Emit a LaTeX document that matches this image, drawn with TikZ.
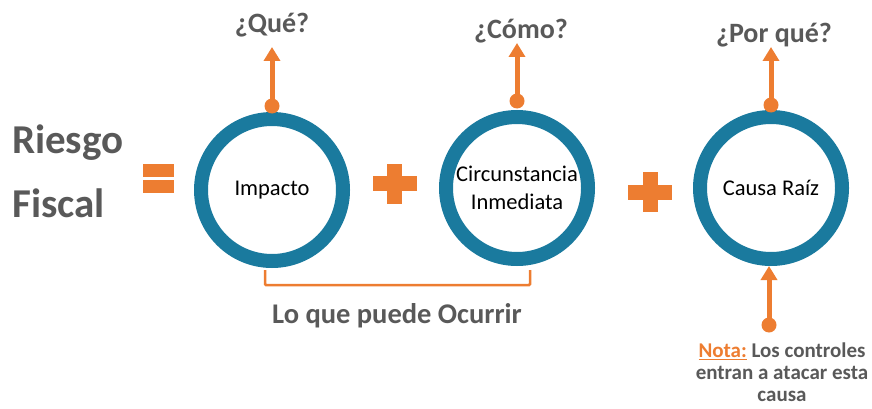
\documentclass[tikz,border=0pt]{standalone}
\usepackage{fontspec}
\setmainfont{Carlito}
\usepackage{xcolor}
\usetikzlibrary{arrows.meta,positioning,calc}
\definecolor{RiskBlue}{HTML}{1A7A9E}
\definecolor{RiskOrange}{HTML}{ED7D31}
\definecolor{RiskGray}{HTML}{595959}
\tikzset{
  plusmark/.pic={
    \fill[RiskOrange] (-22,-7.5) rectangle (22,7.5);
    \fill[RiskOrange] (-7.5,-20) rectangle (7.5,20);
  }
}

\begin{document}
\begin{tikzpicture}[x=1pt,y=1pt,
  ring/.style={circle,draw=RiskBlue,line width=14pt,minimum size=142pt,inner sep=0pt,align=center,font=\fontsize{22.5}{28}\selectfont},
  dotnode/.style={circle,fill=RiskOrange,minimum size=15pt,inner sep=0pt},
  askarrow/.style={draw=RiskOrange,line width=5pt,-{Triangle[width=16pt,length=14pt]}},
  asklabel/.style={font=\bfseries\fontsize{28}{32}\selectfont,text=RiskGray,anchor=base,inner sep=0pt},
  bigword/.style={font=\bfseries\fontsize{41}{46}\selectfont,text=RiskGray,anchor=base west,inner sep=0pt}]
  \useasboundingbox (0,0) rectangle (872,408);

  \node[bigword] (riesgo) at (12,255) {Riesgo};
  \node[bigword] (fiscal) at (12,191) {Fiscal};
  \fill[RiskOrange] (143,231) rectangle (174,244);
  \fill[RiskOrange] (143,215) rectangle (174,228);

  \node[ring] (imp) at (272,218) {Impacto};
  \node[ring] (circ) at (517,220) {Circunstancia\\Inmediata};
  \node[ring] (causa) at (771,220) {Causa Raíz};
  \pic (plusa) at (394.5,224.5) {plusmark};
  \pic (plusb) at (650,216) {plusmark};

  % preguntas
  \node[dotnode] (impdot) at ([yshift=6pt]imp.north) {};
  \node[dotnode] (circdot) at ([yshift=9pt]circ.north) {};
  \node[dotnode] (causadot) at ([yshift=5pt]causa.north) {};
  \coordinate (imptip) at ([yshift=59pt]impdot.center);
  \coordinate (circtip) at ([yshift=58pt]circdot.center);
  \coordinate (causatip) at ([yshift=58pt]causadot.center);
  \draw[askarrow] (impdot.center) -- (imptip);
  \draw[askarrow] (circdot.center) -- (circtip);
  \draw[askarrow] (causadot.center) -- (causatip);
  \node[asklabel] (que) at ([yshift=14pt]imptip) {¿Qué?};
  \node[asklabel] (como) at ([xshift=4pt,yshift=5pt]circtip) {¿Cómo?};
  \node[asklabel] (porque) at ([xshift=3pt,yshift=5pt]causatip) {¿Por qué?};

  % llave inferior
  \coordinate (brl) at ([xshift=-7pt,yshift=-2pt]imp.south);
  \coordinate (brr) at ([xshift=13pt,yshift=-4pt]circ.south);
  \draw[RiskOrange,line width=2.5pt,rounded corners=1pt] (brl) -- ++(0,-15) -| (brr);
  \node[font=\bfseries\fontsize{28.5}{32}\selectfont,text=RiskGray,anchor=base,inner sep=0pt] (ocurrir) at (397,85) {Lo que puede Ocurrir};

  % nota
  \node[dotnode] (notadot) at (769,83) {};
  \draw[askarrow] (notadot.center) -- (notadot |- causa.south);
  \node[font=\bfseries\fontsize{21}{22}\selectfont,text=RiskGray,align=center,inner sep=0pt] (nota) at (782,36)
    {\textcolor{RiskOrange}{\underline{Nota:}} Los controles\\entran a atacar esta\\causa};
\end{tikzpicture}
\end{document}
